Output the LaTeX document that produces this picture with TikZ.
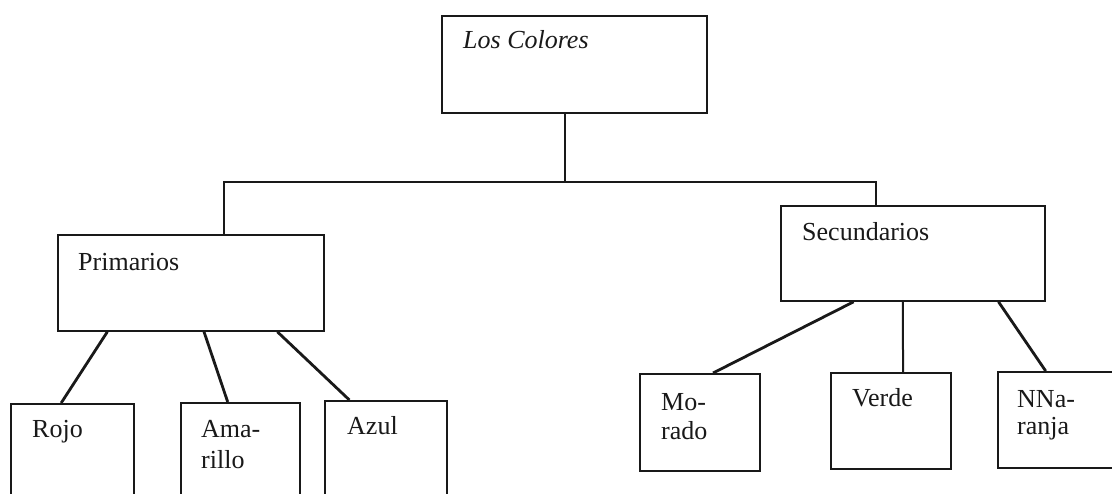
\documentclass[tikz,border=0pt]{standalone}
\usepackage{fontspec}
\setmainfont{Liberation Serif}
\usetikzlibrary{calc}
\begin{document}
\begin{tikzpicture}[x=1pt,y=-1pt,
  box/.style={draw=black!90, line width=1.8pt, rectangle, inner sep=0pt, anchor=north west},
  lbl/.style={anchor=base west, inner sep=0pt, font=\fontsize{26}{29}\selectfont, text=black!90},
  conn/.style={draw=black!90, line width=2.8pt},
  bar/.style={draw=black!90, line width=2pt}]
\useasboundingbox (0,0) rectangle (1112,494);
\fill[white] (0,0) rectangle (1112,494);
\clip (0,0) rectangle (1112,494);
% boxes
\node[box, minimum width=265pt, minimum height=97pt] (top) at (441,15) {};
\node[box, minimum width=266pt, minimum height=96pt] (prim) at (57,234) {};
\node[box, minimum width=264pt, minimum height=95pt] (sec) at (780,205) {};
\node[box, minimum width=123pt, minimum height=130pt] (rojo) at (10,403) {};
\node[box, minimum width=119pt, minimum height=130pt] (ama) at (180,402) {};
\node[box, minimum width=122pt, minimum height=130pt] (azul) at (324,400) {};
\node[box, minimum width=120pt, minimum height=97pt] (mor) at (639,373) {};
\node[box, minimum width=120pt, minimum height=96pt] (ver) at (830,372) {};
\node[box, minimum width=128pt, minimum height=96pt] (nar) at (997,371) {};
% labels
\node[lbl] (tlos) at (463,49) {\itshape Los Colores};
\node[lbl] (tprim) at (78,271) {Primarios};
\node[lbl] (tsec) at (802,241) {Secundarios};
\node[lbl] (trojo) at (32,438) {Rojo};
\node[lbl] (tama1) at (201,438) {Ama-};
\node[lbl] (tama2) at (201,468) {rillo};
\node[lbl] (tazul) at (347,435) {Azul};
\node[lbl] (tmor1) at (661,410) {Mo-};
\node[lbl] (tmor2) at (661,439) {rado};
\node[lbl] (tver) at (852,407) {Verde};
\node[lbl] (tnar1) at (1017,408) {NNa-};
\node[lbl] (tnar2) at (1017,435) {ranja};
% tree connectors
\coordinate (barlevel) at (0,182);
\coordinate (ts) at ($(top.south west)!0.464!(top.south east)$);
\coordinate (pn) at ($(prim.north west)!0.624!(prim.north east)$);
\coordinate (sn) at ($(sec.north west)!0.36!(sec.north east)$);
\draw[bar] (ts) -- (ts |- barlevel);
\draw[bar] (pn) -- (pn |- barlevel) -- (sn |- barlevel) -- (sn);
% primarios children
\draw[conn] ($(prim.south west)!0.188!(prim.south east)$) -- ($(rojo.north west)!0.41!(rojo.north east)$);
\draw[conn] ($(prim.south west)!0.549!(prim.south east)$) -- ($(ama.north west)!0.395!(ama.north east)$);
\draw[conn] ($(prim.south west)!0.823!(prim.south east)$) -- ($(azul.north west)!0.205!(azul.north east)$);
% secundarios children
\draw[conn] ($(sec.south west)!0.277!(sec.south east)$) -- ($(mor.north west)!0.608!(mor.north east)$);
\draw[bar] ($(sec.south west)!0.462!(sec.south east)$) -- ($(ver.north west)!0.6!(ver.north east)$);
\draw[conn] ($(sec.south west)!0.822!(sec.south east)$) -- ($(nar.north west)!0.375!(nar.north east)$);
\end{tikzpicture}
\end{document}
